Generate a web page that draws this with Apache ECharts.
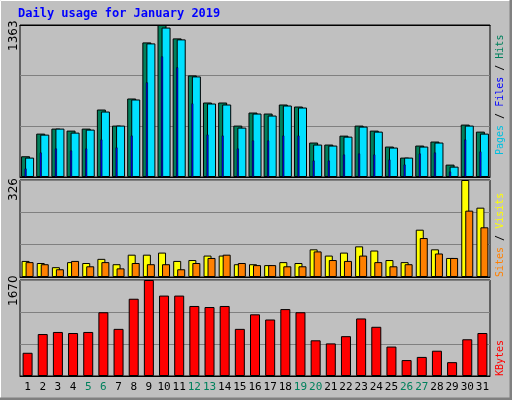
<!DOCTYPE html>
<html><head><meta charset="utf-8">
<script src="https://cdn.jsdelivr.net/npm/echarts@6/dist/echarts.min.js"></script>
<style>html,body{margin:0;padding:0;background:#C0C0C0}#c{width:512px;height:400px}</style>
</head><body><div id="c"></div>
<script>
const days = ['1','2','3','4','5','6','7','8','9','10','11','12','13','14','15','16','17','18','19','20','21','22','23','24','25','26','27','28','29','30','31'];
const weekend = ['5','6','12','13','19','20','26','27'];
const hits  = [186,389,434,416,434,605,461,704,1207,1363,1243,911,668,668,461,578,569,650,632,309,291,371,461,416,273,174,282,318,111,470,407];
const files = [174,380,434,398,425,587,461,695,1198,1340,1234,902,659,650,443,569,551,641,623,291,282,362,452,407,264,174,273,309,93,461,389];
const pages = [75,219,255,237,255,336,264,371,848,1081,983,659,380,371,255,327,327,371,371,147,147,201,210,201,156,111,210,219,48,336,228];
const sites = [54,47,33,50,47,61,43,75,75,82,54,57,72,72,43,43,40,50,47,93,72,82,103,89,57,50,159,93,64,326,233];
const visits= [50,43,26,54,36,50,29,47,43,43,26,47,64,75,47,40,40,36,36,86,57,54,72,50,36,43,131,79,64,223,167];
const kbytes= [404,730,766,748,766,1109,820,1344,1670,1399,1399,1218,1200,1218,820,1073,983,1164,1109,621,567,693,1001,856,512,277,332,440,241,639,748];
const maxTop = 1363, maxMid = 326, maxBot = 1670;
const mono = '"DejaVu Sans Mono", monospace';
const chart = echarts.init(document.getElementById('c'));
const grids = [{left:20,top:25,width:470,height:152},{left:20,top:180,width:470,height:97},{left:20,top:280,width:470,height:96}];
function xa(gi, show){return {type:'category',gridIndex:gi,data:days,axisTick:{show:false},
  axisLine:{show:true,lineStyle:{color:'#000'}},
  axisLabel:{show:show,color:v=>weekend.includes(v)?'#00805C':'#000',fontFamily:mono,fontSize:11,margin:6,interval:0}};}
function ya(gi,max){return {type:'value',gridIndex:gi,min:0,max:max,interval:max/3,axisLabel:{show:false},axisTick:{show:false},
  axisLine:{show:false},splitLine:{lineStyle:{color:'#808080',width:1}}};}
const bs = {borderColor:'#000',borderWidth:1};
const f10 = '10px '+mono;
chart.setOption({
  backgroundColor:'#C0C0C0',animation:false,
  grid:grids.map(g=>Object.assign({show:true,backgroundColor:'#C0C0C0',borderColor:'#000',borderWidth:1},g)),
  xAxis:[xa(0,false),xa(0,false),xa(1,false),xa(2,true)],
  yAxis:[ya(0,maxTop),ya(1,maxMid),ya(2,maxBot)],
  series:[
    {type:'bar',xAxisIndex:0,yAxisIndex:0,data:hits,barWidth:9,barGap:'-55%',itemStyle:Object.assign({color:'#00805C'},bs)},
    {type:'bar',xAxisIndex:0,yAxisIndex:0,data:files,barWidth:9,barGap:'-55%',itemStyle:Object.assign({color:'#00E0FF'},bs)},
    {type:'bar',xAxisIndex:1,yAxisIndex:0,data:pages,barWidth:2,barGap:0,z:5,itemStyle:{color:'#0000FF',borderColor:'#000',borderWidth:0.5}},
    {type:'bar',xAxisIndex:1,yAxisIndex:0,data:days.map(()=>'-'),barWidth:4,barGap:0},
    {type:'bar',xAxisIndex:2,yAxisIndex:1,data:sites,barWidth:8,barGap:'-50%',itemStyle:Object.assign({color:'#FFFF00'},bs)},
    {type:'bar',xAxisIndex:2,yAxisIndex:1,data:visits,barWidth:8,barGap:'-50%',itemStyle:Object.assign({color:'#FF8000'},bs)},
    {type:'bar',xAxisIndex:3,yAxisIndex:2,data:kbytes,barWidth:10,itemStyle:Object.assign({color:'#FF0000'},bs)}
  ],
  graphic:[
    {type:'rect',shape:{x:0.5,y:0.5,width:510,height:398},style:{fill:null,stroke:'#FFFFFF',lineWidth:1}},
    {type:'polyline',shape:{points:[[511,0],[511,399],[0,399]]},style:{stroke:'#808080',lineWidth:3,fill:null}},
    {type:'text',left:18,top:8,style:{text:'Daily usage for January 2019',font:'bold 12px '+mono,fill:'#0000FF'}},
    {type:'text',x:8,y:51,rotation:Math.PI/2,style:{text:String(maxTop),font:'12px "DejaVu Sans"',fill:'#000'}},
    {type:'text',x:8,y:201,rotation:Math.PI/2,style:{text:String(maxMid),font:'12px "DejaVu Sans"',fill:'#000'}},
    {type:'text',x:8,y:306,rotation:Math.PI/2,style:{text:String(maxBot),font:'12px "DejaVu Sans"',fill:'#000'}},
    {type:'text',x:495,y:155,rotation:Math.PI/2,style:{text:'{p|Pages}{s| / }{f|Files}{s| / }{h|Hits}',font:f10,
      rich:{p:{fill:'#00C0E0',font:f10},s:{fill:'#000',font:f10},f:{fill:'#0000FF',font:f10},h:{fill:'#00805C',font:f10}}}},
    {type:'text',x:495,y:277,rotation:Math.PI/2,style:{text:'{o|Sites}{s| / }{y|Visits}',font:f10,
      rich:{o:{fill:'#FF8000',font:f10},s:{fill:'#000',font:f10},y:{fill:'#FFFF00',font:f10}}}},
    {type:'text',x:495,y:376,rotation:Math.PI/2,style:{text:'KBytes',font:f10,fill:'#FF0000'}}
  ]
});
</script></body></html>
